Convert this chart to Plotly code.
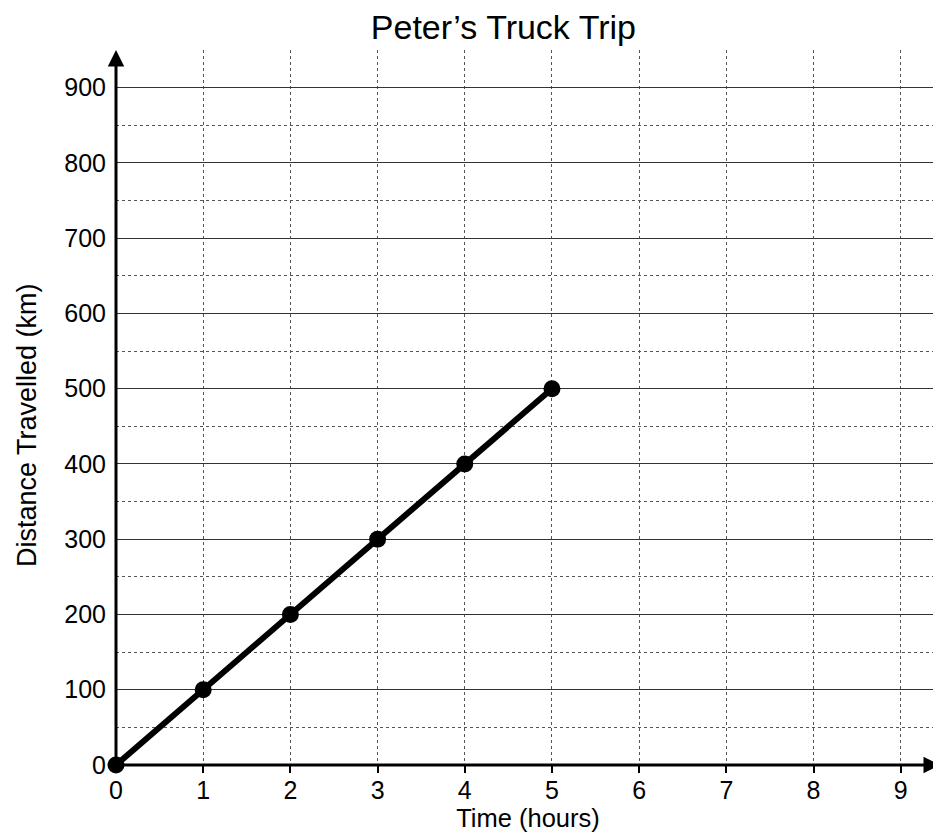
import plotly.graph_objects as go

# data
hours = [0, 1, 2, 3, 4, 5]
distance_km = [0, 100, 200, 300, 400, 500]
x_ticks = [0, 1, 2, 3, 4, 5, 6, 7, 8, 9]
y_ticks = [0, 100, 200, 300, 400, 500, 600, 700, 800, 900]

X_MAX = 9.45
Y_MAX = 950

fig = go.Figure()

fig.add_trace(
    go.Scatter(
        x=hours,
        y=distance_km,
        mode="lines+markers",
        line=dict(color="black", width=6),
        marker=dict(color="black", size=17),
        cliponaxis=False,
        hoverinfo="skip",
    )
)

# axes with arrows
fig.add_annotation(
    x=X_MAX, y=0, ax=0, ay=0, xref="x", yref="y", axref="x", ayref="y",
    showarrow=True, arrowhead=2, arrowsize=1.1, arrowwidth=3, arrowcolor="black", text="",
)
fig.add_annotation(
    x=0, y=Y_MAX, ax=0, ay=0, xref="x", yref="y", axref="x", ayref="y",
    showarrow=True, arrowhead=2, arrowsize=1.1, arrowwidth=3, arrowcolor="black", text="",
)

font = "Liberation Sans, Arial, sans-serif"

# y title sits a bit below the middle of the plot in the original
fig.add_annotation(
    text="Distance Travelled (km)",
    xref="paper", yref="paper", x=-0.108, y=0.4755,
    xanchor="center", yanchor="middle", textangle=-90,
    showarrow=False, font=dict(size=27, family=font, color="black"),
)

# page body has an 8px margin, so the figure is a bit smaller than the window
fig.update_layout(
    width=933,
    height=827,
    margin=dict(l=108, r=1, t=42, b=70),
    plot_bgcolor="white",
    paper_bgcolor="white",
    showlegend=False,
    font=dict(family=font, color="black"),
    title=dict(
        text="Peter\u2019s Truck Trip",
        x=0.531, xanchor="center", y=0.977, yanchor="middle",
        font=dict(size=34, family=font, color="black"),
    ),
)

fig.update_xaxes(
    range=[0, X_MAX],
    tickvals=x_ticks,
    ticks="outside",
    ticklen=7,
    tickwidth=1.5,
    tickcolor="black",
    tickfont=dict(size=25),
    ticklabelstandoff=-4,
    showgrid=True,
    gridcolor="#555",
    gridwidth=1,
    griddash="dot",
    zeroline=False,
    showline=False,
    automargin=False,
    title=dict(text="Time (hours)", font=dict(size=25.5), standoff=2),
)

fig.update_yaxes(
    range=[0, Y_MAX],
    tickvals=y_ticks,
    ticks="",
    tickfont=dict(size=25),
    ticklabelstandoff=9,
    showgrid=True,
    gridcolor="#333",
    gridwidth=1.3,
    zeroline=False,
    showline=False,
    automargin=False,
    minor=dict(dtick=50, showgrid=True, gridcolor="#555", griddash="dot", gridwidth=1),
)

fig.write_html("out.html")
